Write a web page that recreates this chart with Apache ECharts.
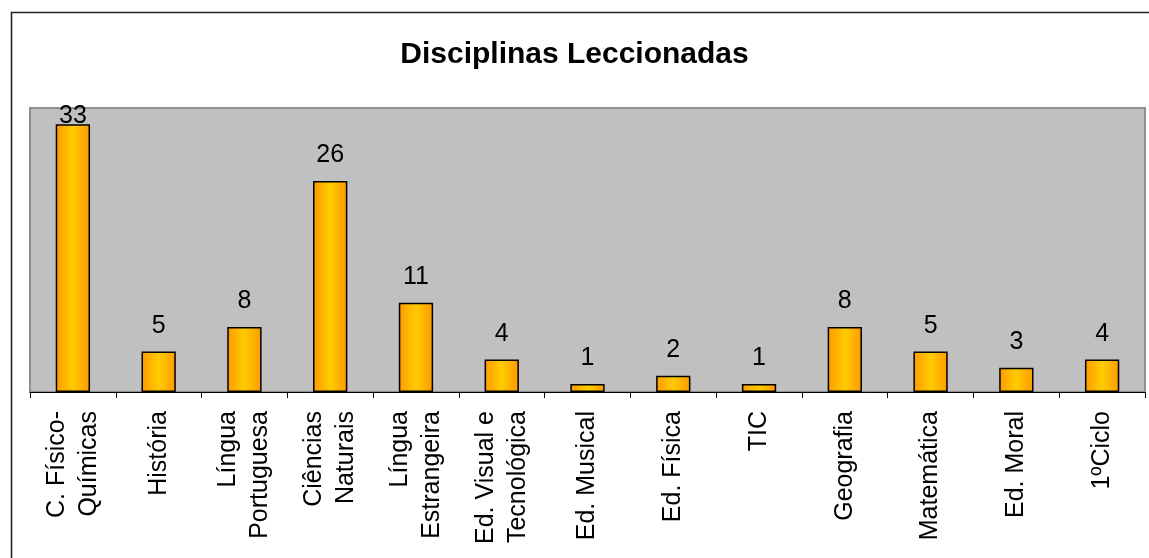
<!DOCTYPE html>
<html>
<head>
<meta charset="utf-8">
<title>Disciplinas Leccionadas</title>
<script src="https://cdn.jsdelivr.net/npm/echarts@6/dist/echarts.min.js"></script>
<style>
  html, body { margin: 0; padding: 0; background: #fff; }
  #chart { width: 1149px; height: 558px; }
</style>
</head>
<body>
<div id="chart"></div>
<script>
// categorias (eixo x)
const disciplinas = [
  'C. Físico-\nQuímicas', 'História', 'Língua\nPortuguesa', 'Ciências\nNaturais',
  'Língua\nEstrangeira', 'Ed. Visual e\nTecnológica', 'Ed. Musical', 'Ed. Física',
  'TIC', 'Geografia', 'Matemática', 'Ed. Moral', '1ºCiclo'
]
// número de professores por disciplina
const professores = [33, 5, 8, 26, 11, 4, 1, 2, 1, 8, 5, 3, 4]
const yMax = 35

const fontFamily = "'Liberation Sans', Arial, sans-serif"

const chart = echarts.init(document.getElementById('chart'))

// o rótulo da barra mais alta fica encostado ao topo da área do gráfico
const seriesData = professores.map(v =>
  v / yMax > 0.9 ? { value: v, label: { distance: -4 } } : v
)

const option = {
  animation: false,
  title: {
    text: 'Disciplinas Leccionadas',
    left: 'center',
    top: 35,
    textStyle: { fontSize: 30, fontWeight: 'bold', color: '#000', fontFamily }
  },
  graphic: [
    {
      type: 'rect',
      shape: { x: 11.5, y: 12.5, width: 1300, height: 700 },
      style: { fill: 'none', stroke: '#222', lineWidth: 1.6 },
      z: -1
    }
  ],
  grid: {
    left: 30,
    right: 4,
    top: 108,
    bottom: 166,
    show: true,
    backgroundColor: '#C0C0C0',
    borderColor: '#8f8f8f',
    borderWidth: 2
  },
  xAxis: {
    type: 'category',
    data: disciplinas,
    axisLine: { lineStyle: { color: '#000', width: 1 } },
    axisTick: { show: true, alignWithLabel: false, inside: false, length: 6, lineStyle: { color: '#000', width: 1 } },
    axisLabel: {
      rotate: 90,
      interval: 0,
      margin: 19,
      fontSize: 25,
      lineHeight: 32,
      color: '#000',
      fontFamily
    }
  },
  yAxis: {
    type: 'value',
    min: 0,
    max: yMax,
    show: false,
    splitLine: { show: false }
  },
  series: [
    {
      type: 'bar',
      barWidth: '40%',
      data: seriesData,
      itemStyle: {
        color: new echarts.graphic.LinearGradient(0, 0, 1, 0, [
          { offset: 0, color: '#FF9900' },
          { offset: 0.5, color: '#FFCC00' },
          { offset: 1, color: '#FF9900' }
        ]),
        borderColor: '#000',
        borderWidth: 1.5
      },
      label: {
        show: true,
        position: 'top',
        distance: 13,
        fontSize: 25,
        color: '#000',
        fontFamily
      }
    }
  ]
}

chart.setOption(option)
</script>
</body>
</html>
